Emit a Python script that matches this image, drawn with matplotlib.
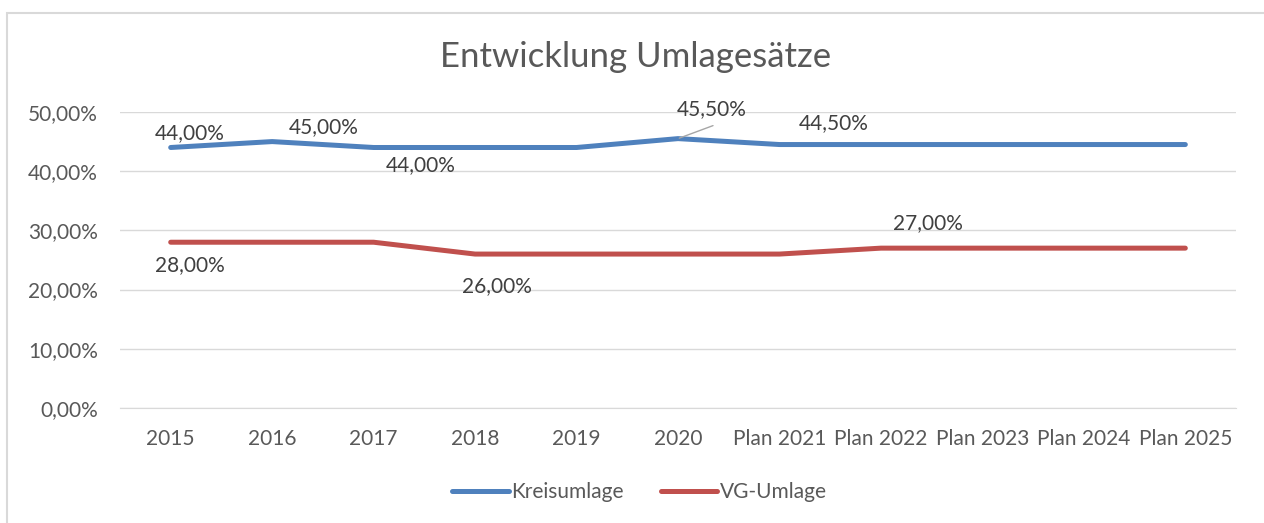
import matplotlib.pyplot as plt
from matplotlib.patches import Rectangle
from matplotlib.ticker import FuncFormatter

plt.rcParams['font.family'] = ['Lato', 'DejaVu Sans']

categories = ['2015', '2016', '2017', '2018', '2019', '2020',
              'Plan 2021', 'Plan 2022', 'Plan 2023', 'Plan 2024', 'Plan 2025']
kreisumlage = [44.0, 45.0, 44.0, 44.0, 44.0, 45.5, 44.5, 44.5, 44.5, 44.5, 44.5]
vg_umlage = [28.0, 28.0, 28.0, 26.0, 26.0, 26.0, 26.0, 27.0, 27.0, 27.0, 27.0]

blue = '#4F81BD'
red = '#C0504D'
grey = '#595959'
fs = 15

fig = plt.figure(figsize=(12.64, 5.23), dpi=100)
ax = fig.add_axes([0.0949, 0.2199, 0.883, 0.566])

x = list(range(len(categories)))
ax.plot(x, kreisumlage, color=blue, lw=3.6, solid_capstyle='round', label='Kreisumlage')
ax.plot(x, vg_umlage, color=red, lw=3.6, solid_capstyle='round', label='VG-Umlage')

ax.set_xlim(-0.5, len(categories) - 0.5)
ax.set_ylim(0, 50)
ax.set_yticks([0, 10, 20, 30, 40, 50])
ax.yaxis.set_major_formatter(FuncFormatter(lambda v, p: f'{v:.2f}%'.replace('.', ',')))
ax.set_xticks(x)
ax.set_xticklabels(categories)
ax.tick_params(axis='both', length=0, labelsize=fs, colors=grey)
ax.tick_params(axis='y', pad=16)
ax.tick_params(axis='x', pad=15)
ax.grid(axis='y', color='#D9D9D9', lw=1)
ax.set_axisbelow(True)
for s in ax.spines.values():
    s.set_visible(False)
ax.spines['bottom'].set_visible(True)
ax.spines['bottom'].set_color('#D9D9D9')

def fmt(v):
    return f'{v:.2f}%'.replace('.', ',')

def label(series, i, dx, dy):
    # dx, dy = offset of the label centre in pixels (baseline sits ~7px lower)
    ax.annotate(fmt(series[i]), (i, series[i]), xytext=(dx, dy - 7),
                textcoords='offset pixels', ha='center', va='baseline',
                fontsize=fs, color='#404040')

label(kreisumlage, 0, 19, 15)
label(kreisumlage, 1, 52, 15)
label(kreisumlage, 2, 47, -17)
label(kreisumlage, 5, 34, 31)
label(kreisumlage, 6, 54, 22)
label(vg_umlage, 0, 19, -22)
label(vg_umlage, 3, 22, -31)
label(vg_umlage, 7, 47, 26)

# leader line for 45,50%
ax.annotate('', (5, kreisumlage[5]), xytext=(35, 13), textcoords='offset pixels',
            arrowprops=dict(arrowstyle='-', color='#A6A6A6', lw=1,
                            shrinkA=0, shrinkB=1))

fig.text(0.503, 0.891, 'Entwicklung Umlagesätze', ha='center', va='center',
         fontsize=25, color=grey)

fig.legend(loc='center', bbox_to_anchor=(0.506, 0.059), ncol=2, frameon=False,
           fontsize=fs, handlelength=2.7, handletextpad=0.12, columnspacing=1.8,
           labelcolor=grey)

fig.patches.append(Rectangle((7 / 1264, -0.1), 1.2, (1 - 13 / 523) + 0.1,
                             transform=fig.transFigure, fill=False,
                             edgecolor='#D9D9D9', lw=1.5))

plt.savefig('out.png', dpi=100)
